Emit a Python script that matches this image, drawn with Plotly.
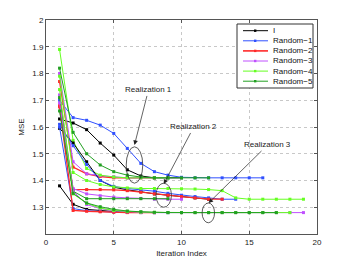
import plotly.graph_objects as go

# ---------------- data ----------------
names = ["I", "Random\u22121", "Random\u22122", "Random\u22123", "Random\u22124", "Random\u22125"]
colors = ["#000000", "#3050ff", "#ff2a2a", "#c050ff", "#66ff22", "#22a022"]

# Realization 1 (converges to ~1.41)
r1_I  = [1.63, 1.615, 1.59, 1.54, 1.495, 1.44, 1.417, 1.41, 1.41, 1.41]
r1_R1 = [1.70, 1.635, 1.625, 1.607, 1.576, 1.52, 1.464, 1.433, 1.42, 1.412, 1.41, 1.41, 1.41, 1.41, 1.41, 1.41]
r1_R2 = [1.77, 1.45, 1.425, 1.415, 1.41, 1.41, 1.41, 1.41]
r1_R3 = [1.80, 1.47, 1.425, 1.418, 1.414, 1.41, 1.41, 1.41, 1.41]
r1_R4 = [1.89, 1.55, 1.445, 1.42, 1.413, 1.41, 1.41, 1.41, 1.41]
r1_R5 = [1.82, 1.58, 1.50, 1.458, 1.433, 1.42, 1.413, 1.41, 1.41, 1.41, 1.41, 1.41]

# Realization 2 (converges to ~1.33)
r2_I  = [1.595, 1.54, 1.47, 1.40, 1.375, 1.365, 1.358, 1.35, 1.345, 1.34, 1.335, 1.33]
r2_R1 = [1.61, 1.53, 1.46, 1.40, 1.378, 1.37, 1.365, 1.36, 1.352, 1.345, 1.34, 1.335, 1.33, 1.33]
r2_R2 = [1.68, 1.367, 1.366, 1.366, 1.365, 1.362, 1.356, 1.35, 1.345, 1.34, 1.335, 1.33, 1.33]
r2_R3 = [1.72, 1.37, 1.35, 1.343, 1.338, 1.335, 1.333, 1.33, 1.33, 1.33]
r2_R4 = [1.79, 1.43, 1.40, 1.385, 1.376, 1.372, 1.37, 1.37, 1.37, 1.369, 1.368, 1.366, 1.362, 1.335, 1.33, 1.33, 1.33, 1.33, 1.33]
r2_R5 = [1.71, 1.36, 1.332, 1.332, 1.332, 1.332, 1.332, 1.332, 1.332]

# Realization 3 (converges to ~1.28)
r3_I  = [1.38, 1.311, 1.292, 1.287, 1.284, 1.282, 1.281, 1.28]
r3_R1 = [1.60, 1.295, 1.287, 1.284, 1.282, 1.281, 1.28, 1.28, 1.28]
r3_R2 = [1.675, 1.288, 1.285, 1.283, 1.281, 1.28, 1.28, 1.28]
r3_R3 = [1.69, 1.36, 1.31, 1.295, 1.287, 1.283, 1.281, 1.28, 1.28, 1.28, 1.28, 1.28, 1.28, 1.28, 1.28, 1.28, 1.28, 1.28, 1.28]
r3_R4 = [1.74, 1.35, 1.315, 1.297, 1.288, 1.284, 1.282, 1.281, 1.28, 1.28, 1.28, 1.28, 1.28, 1.28, 1.28, 1.28, 1.28, 1.28]
r3_R5 = [1.66, 1.352, 1.316, 1.302, 1.292, 1.286, 1.283, 1.281, 1.28, 1.28, 1.28, 1.28, 1.28, 1.28, 1.28, 1.28, 1.28]

realizations = [
    [r1_I, r1_R1, r1_R2, r1_R3, r1_R4, r1_R5],
    [r2_I, r2_R1, r2_R2, r2_R3, r2_R4, r2_R5],
    [r3_I, r3_R1, r3_R2, r3_R3, r3_R4, r3_R5],
]

x_ticks = [0, 5, 10, 15, 20]
y_ticks = [1.3, 1.4, 1.5, 1.6, 1.7, 1.8, 1.9, 2.0]
y_tick_text = ["1.3", "1.4", "1.5", "1.6", "1.7", "1.8", "1.9", "2"]

# annotations: (label, tip x, tip y, text offset px) and ellipses (cx, cy, rx, ry)
ann_labels = ["Realization 1", "Realization 2", "Realization 3"]
ann_tips = [(6.53, 1.533), (8.69, 1.387), (12.0, 1.316)]
ann_offsets = [(14, -55), (30, -57), (59, -58)]
ellipses = [(6.53, 1.458, 0.61, 0.068), (8.69, 1.345, 0.57, 0.045), (11.98, 1.279, 0.46, 0.037)]

# ---------------- figure ----------------
FONT = "Liberation Sans, Arial, sans-serif"
W, H = 350, 264
ML, MR, MT, MB = 46, 33, 20, 30
PW, PH = W - ML - MR, H - MT - MB

fig = go.Figure()

for ri, series in enumerate(realizations):
    for si, vals in enumerate(series):
        xs = list(range(1, len(vals) + 1))
        fig.add_trace(go.Scatter(
            x=xs, y=vals, mode="lines+markers",
            name=names[si], legendgroup=names[si], showlegend=False,
            line=dict(color=colors[si], width=1.3 if si == 2 else 1),
            marker=dict(color=colors[si], size=3, symbol="square"),
        ))

for (cx, cy, rx, ry) in ellipses:
    fig.add_shape(type="circle", xref="x", yref="y",
                  x0=cx - rx, x1=cx + rx, y0=cy - ry, y1=cy + ry,
                  line=dict(color="#333333", width=0.8))

for lab, (tx, ty), (ox, oy) in zip(ann_labels, ann_tips, ann_offsets):
    fig.add_annotation(x=tx, y=ty, xref="x", yref="y", text=lab,
                       showarrow=True, ax=ox, ay=oy, arrowhead=2, arrowsize=1.3,
                       arrowwidth=0.7, arrowcolor="#222222",
                       font=dict(family=FONT, size=8, color="#222222"))

# compact MATLAB-style legend box (drawn in paper coordinates)
def px2paper(px, py):
    return (px - ML) / PW, (H - MB - py) / PH

bx0, by0 = px2paper(237, 24)
bx1, by1 = px2paper(313, 88)
fig.add_shape(type="rect", xref="paper", yref="paper", x0=bx0, x1=bx1, y0=by1, y1=by0,
              fillcolor="white", line=dict(color="#333333", width=1), layer="above")
for i, (nm, col) in enumerate(zip(names, colors)):
    py = 30.7 + i * 10.1
    lx0, ly = px2paper(243, py)
    lx1, _ = px2paper(268, py)
    fig.add_shape(type="line", xref="paper", yref="paper", x0=lx0, x1=lx1, y0=ly, y1=ly,
                  line=dict(color=col, width=1.6 if i == 2 else 1), layer="above")
    mx0, my0 = px2paper(254, py - 1.2)
    mx1, my1 = px2paper(256.4, py + 1.2)
    fig.add_shape(type="rect", xref="paper", yref="paper", x0=mx0, x1=mx1, y0=my1, y1=my0,
                  fillcolor=col, line=dict(width=0), layer="above")
    tx, ty = px2paper(270.5, py)
    fig.add_annotation(x=tx, y=ty, xref="paper", yref="paper", text=nm, showarrow=False,
                       xanchor="left", yanchor="middle",
                       font=dict(family=FONT, size=8, color="#111111"))

axis_common = dict(showline=True, linecolor="#555555", linewidth=1, mirror="allticks",
                   ticks="inside", ticklen=3, tickcolor="#555555",
                   showgrid=True, gridcolor="#c8c8c8", griddash="dot", gridwidth=1,
                   zeroline=False, tickfont=dict(family=FONT, size=8, color="#222222"))

fig.update_xaxes(range=[0, 20], tickvals=x_ticks,
                 title=dict(text="Iteration Index", font=dict(family=FONT, size=8, color="#222222"), standoff=4),
                 **axis_common)
fig.update_yaxes(range=[1.2, 2.0], tickvals=y_ticks, ticktext=y_tick_text,
                 title=dict(text="MSE", font=dict(family=FONT, size=8, color="#222222"), standoff=6),
                 **axis_common)

fig.update_layout(
    width=W, height=H,
    margin=dict(l=ML, r=MR, t=MT, b=MB, autoexpand=False),
    plot_bgcolor="white", paper_bgcolor="white",
    font=dict(family=FONT, size=8, color="#222222"),
    showlegend=False,
)

fig.write_html("out.html", config={"displayModeBar": False},
               post_script="document.body.style.margin='0';")
